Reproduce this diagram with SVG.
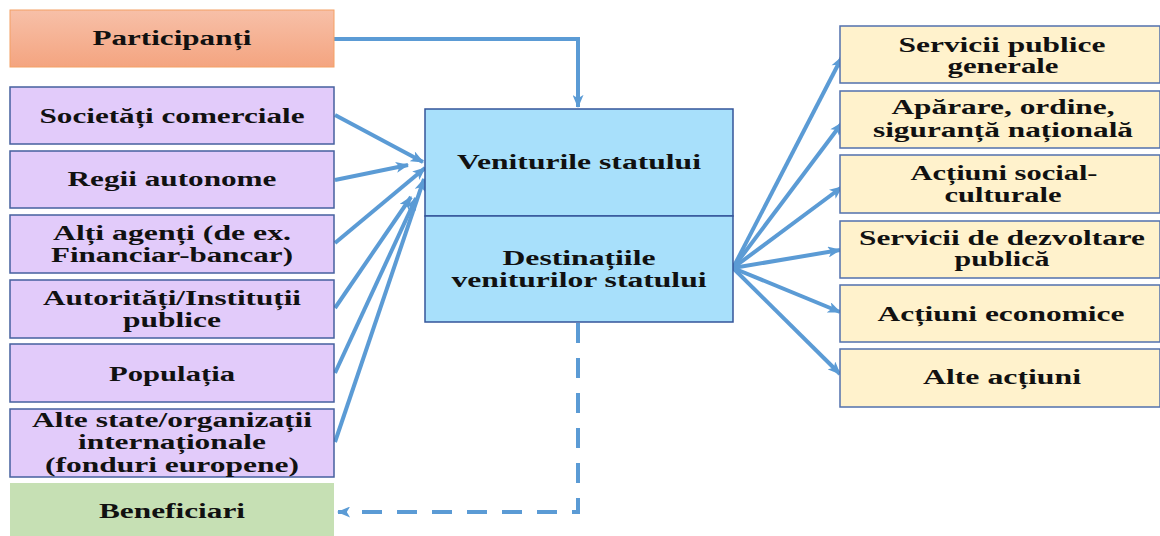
<svg xmlns="http://www.w3.org/2000/svg" width="1160" height="536" viewBox="0 0 1160 536">
<style>
  text { font-family: "Liberation Serif", "Times New Roman", serif; font-weight: bold; font-size: 20px; fill: #111; text-anchor: middle; }
  .src { fill: #e2cbfa; stroke: #46609f; stroke-width: 1.5; }
  .dst { fill: #fff2cc; stroke: #5270ad; stroke-width: 1.5; }
  .ctr { fill: #a8e0fb; stroke: #34559a; stroke-width: 1.5; }
  .con { fill: none; stroke: #5b9bd5; stroke-width: 4; }
  .dash { stroke-dasharray: 20 15; }
</style>
<defs>
  <linearGradient id="og" x1="0" y1="0" x2="0" y2="1">
    <stop offset="0" stop-color="#f7c0a8"/>
    <stop offset="1" stop-color="#f4a480"/>
  </linearGradient>
  <marker id="ah" viewBox="0 0 12 10" refX="11" refY="5" markerWidth="14" markerHeight="11" markerUnits="userSpaceOnUse" orient="auto">
    <path d="M0,0 L12,5 L0,10 L3,5 Z" fill="#5b9bd5"/>
  </marker>
</defs>
<rect width="1160" height="536" fill="#ffffff"/>

<g id="connectors">
  <polyline class="con" points="334,39 578,39 578,107" marker-end="url(#ah)"/>
  <line class="con" x1="335" y1="115" x2="423" y2="162" marker-end="url(#ah)"/>
  <line class="con" x1="335" y1="180" x2="408" y2="165" marker-end="url(#ah)"/>
  <line class="con" x1="335" y1="243" x2="425" y2="168" marker-end="url(#ah)"/>
  <line class="con" x1="335" y1="308" x2="411" y2="197" marker-end="url(#ah)"/>
  <line class="con" x1="335" y1="373" x2="416" y2="198" marker-end="url(#ah)"/>
  <line class="con" x1="335" y1="442" x2="424" y2="179" marker-end="url(#ah)"/>
  <line class="con" x1="733" y1="268" x2="842" y2="57" marker-end="url(#ah)"/>
  <line class="con" x1="733" y1="268" x2="842" y2="123" marker-end="url(#ah)"/>
  <line class="con" x1="733" y1="268" x2="842" y2="187" marker-end="url(#ah)"/>
  <line class="con" x1="733" y1="268" x2="840" y2="250" marker-end="url(#ah)"/>
  <line class="con" x1="733" y1="268" x2="840" y2="312" marker-end="url(#ah)"/>
  <line class="con" x1="733" y1="268" x2="840" y2="374" marker-end="url(#ah)"/>
  <polyline class="con dash" points="578,323 578,512 338,512" marker-end="url(#ah)"/>
</g>

<g id="participanti">
  <rect x="10" y="10" width="324" height="57" fill="url(#og)" stroke="#f4a064" stroke-width="1"/>
  <text x="172" y="45" textLength="159" lengthAdjust="spacingAndGlyphs">Participanți</text>
</g>
<g id="societati">
  <rect class="src" x="10" y="87" width="324" height="57"/>
  <text x="172" y="123" textLength="265" lengthAdjust="spacingAndGlyphs">Societăți comerciale</text>
</g>
<g id="regii">
  <rect class="src" x="10" y="151" width="324" height="57"/>
  <text x="172" y="186" textLength="209" lengthAdjust="spacingAndGlyphs">Regii autonome</text>
</g>
<g id="alti-agenti">
  <rect class="src" x="10" y="215" width="324" height="58"/>
  <text x="172" y="240" textLength="238" lengthAdjust="spacingAndGlyphs">Alți agenți (de ex.</text>
  <text x="172" y="262" textLength="242" lengthAdjust="spacingAndGlyphs">Financiar-bancar)</text>
</g>
<g id="autoritati">
  <rect class="src" x="10" y="280" width="324" height="58"/>
  <text x="172" y="305" textLength="258" lengthAdjust="spacingAndGlyphs">Autorități/Instituții</text>
  <text x="172" y="327" textLength="98" lengthAdjust="spacingAndGlyphs">publice</text>
</g>
<g id="populatia">
  <rect class="src" x="10" y="344" width="324" height="58"/>
  <text x="172" y="381" textLength="126" lengthAdjust="spacingAndGlyphs">Populația</text>
</g>
<g id="alte-state">
  <rect class="src" x="10" y="409" width="324" height="68"/>
  <text x="172" y="427" textLength="280" lengthAdjust="spacingAndGlyphs">Alte state/organizații</text>
  <text x="172" y="449" textLength="188" lengthAdjust="spacingAndGlyphs">internaționale</text>
  <text x="172" y="472" textLength="254" lengthAdjust="spacingAndGlyphs">(fonduri europene)</text>
</g>
<g id="beneficiari">
  <rect x="10" y="483" width="324" height="56" fill="#c6e0b4"/>
  <text x="172" y="518" textLength="146" lengthAdjust="spacingAndGlyphs">Beneficiari</text>
</g>

<g id="venituri">
  <rect class="ctr" x="425" y="109" width="308" height="107"/>
  <text x="579" y="169" textLength="244" lengthAdjust="spacingAndGlyphs">Veniturile statului</text>
</g>
<g id="destinatii">
  <rect class="ctr" x="425" y="216" width="308" height="106"/>
  <text x="579" y="265" textLength="153" lengthAdjust="spacingAndGlyphs">Destinațiile</text>
  <text x="579" y="287" textLength="255" lengthAdjust="spacingAndGlyphs">veniturilor statului</text>
</g>

<g id="servicii-publice">
  <rect class="dst" x="840" y="26" width="320" height="57"/>
  <text x="1002" y="52" textLength="207" lengthAdjust="spacingAndGlyphs">Servicii publice</text>
  <text x="1003" y="73" textLength="111" lengthAdjust="spacingAndGlyphs">generale</text>
</g>
<g id="aparare">
  <rect class="dst" x="840" y="91" width="320" height="57"/>
  <text x="1003" y="114" textLength="223" lengthAdjust="spacingAndGlyphs">Apărare, ordine,</text>
  <text x="1003" y="137" textLength="260" lengthAdjust="spacingAndGlyphs">siguranță națională</text>
</g>
<g id="social">
  <rect class="dst" x="840" y="155" width="320" height="58"/>
  <text x="1004" y="180" textLength="187" lengthAdjust="spacingAndGlyphs">Acțiuni social-</text>
  <text x="1003" y="202" textLength="117" lengthAdjust="spacingAndGlyphs">culturale</text>
</g>
<g id="dezvoltare">
  <rect class="dst" x="840" y="221" width="320" height="57"/>
  <text x="1002" y="245" textLength="286" lengthAdjust="spacingAndGlyphs">Servicii de dezvoltare</text>
  <text x="1002" y="266" textLength="95" lengthAdjust="spacingAndGlyphs">publică</text>
</g>
<g id="economice">
  <rect class="dst" x="840" y="285" width="320" height="57"/>
  <text x="1001" y="321" textLength="247" lengthAdjust="spacingAndGlyphs">Acțiuni economice</text>
</g>
<g id="alte-actiuni">
  <rect class="dst" x="840" y="349" width="320" height="58"/>
  <text x="1002" y="384" textLength="158" lengthAdjust="spacingAndGlyphs">Alte acțiuni</text>
</g>
</svg>
